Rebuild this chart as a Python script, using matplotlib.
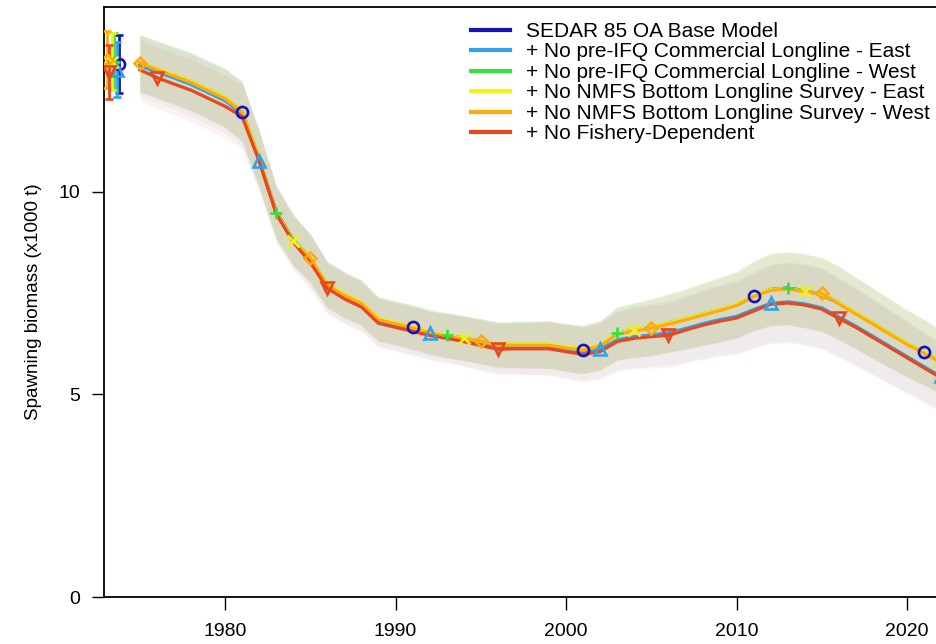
import matplotlib
matplotlib.use("Agg")
import matplotlib.pyplot as plt
import numpy as np

plt.rcParams['font.family'] = ['Liberation Sans', 'DejaVu Sans']

years = list(range(1975, 2023))

labels = [
    "SEDAR 85 OA Base Model",
    "+ No pre-IFQ Commercial Longline - East",
    "+ No pre-IFQ Commercial Longline - West",
    "+ No NMFS Bottom Longline Survey - East",
    "+ No NMFS Bottom Longline Survey - West",
    "+ No Fishery-Dependent",
]
colors = ["#1414b4", "#2ea3ea", "#3ae03a", "#f2f21a", "#ffaa10", "#e8461e"]
markers = ["o", "^", "+", "x", "D", "v"]

# spawning biomass (x1000 t), 1975-2022
base = [13.15, 13.0, 12.85, 12.7, 12.5, 12.3, 11.97, 10.8, 9.5, 8.8,
        8.35, 7.7, 7.45, 7.25, 6.85, 6.75, 6.65, 6.52, 6.45, 6.38,
        6.3, 6.22, 6.22, 6.22, 6.22, 6.15, 6.1, 6.2, 6.5, 6.58,
        6.65, 6.75, 6.85, 6.97, 7.08, 7.2, 7.42, 7.58, 7.62, 7.55,
        7.45, 7.25, 7.0, 6.75, 6.5, 6.25, 6.03, 5.8]
no_ll_east = [13.1, 12.95, 12.8, 12.64, 12.44, 12.24, 11.92, 10.76, 9.47, 8.77,
              8.29, 7.64, 7.39, 7.19, 6.79, 6.69, 6.6, 6.5, 6.42, 6.34,
              6.24, 6.15, 6.15, 6.15, 6.15, 6.08, 6.01, 6.11, 6.34, 6.42,
              6.46, 6.52, 6.62, 6.74, 6.84, 6.92, 7.09, 7.24, 7.28, 7.23,
              7.13, 6.91, 6.68, 6.43, 6.18, 5.93, 5.68, 5.44]
no_ll_west = [13.17, 13.02, 12.87, 12.72, 12.52, 12.32, 11.99, 10.82, 9.46, 8.82,
              8.36, 7.71, 7.46, 7.26, 6.86, 6.76, 6.66, 6.53, 6.45, 6.39,
              6.31, 6.23, 6.23, 6.23, 6.23, 6.16, 6.11, 6.21, 6.5, 6.59,
              6.66, 6.76, 6.86, 6.98, 7.09, 7.21, 7.43, 7.59, 7.61, 7.56,
              7.46, 7.26, 7.01, 6.76, 6.51, 6.26, 6.04, 5.81]
no_bll_east = [13.18, 13.03, 12.88, 12.72, 12.52, 12.32, 11.99, 10.81, 9.49, 8.79,
               8.36, 7.72, 7.47, 7.27, 6.87, 6.77, 6.67, 6.54, 6.46, 6.38,
               6.31, 6.24, 6.24, 6.24, 6.24, 6.17, 6.12, 6.22, 6.51, 6.58,
               6.66, 6.76, 6.86, 6.98, 7.09, 7.22, 7.44, 7.58, 7.61, 7.54,
               7.46, 7.26, 7.01, 6.76, 6.51, 6.26, 6.04, 5.81]
no_bll_west = [13.18, 13.0, 12.85, 12.69, 12.49, 12.29, 11.96, 10.78, 9.47, 8.76,
               8.35, 7.69, 7.44, 7.24, 6.84, 6.74, 6.64, 6.51, 6.43, 6.36,
               6.31, 6.21, 6.21, 6.21, 6.21, 6.14, 6.09, 6.19, 6.48, 6.56,
               6.63, 6.73, 6.83, 6.95, 7.06, 7.19, 7.41, 7.56, 7.6, 7.53,
               7.49, 7.23, 6.98, 6.73, 6.48, 6.23, 6.01, 5.78]
no_fd = [13.0, 12.81, 12.65, 12.5, 12.3, 12.1, 11.85, 10.75, 9.45, 8.75,
         8.25, 7.61, 7.35, 7.15, 6.75, 6.65, 6.55, 6.45, 6.38, 6.3,
         6.2, 6.11, 6.12, 6.12, 6.12, 6.05, 5.98, 6.05, 6.3, 6.38,
         6.42, 6.45, 6.58, 6.7, 6.8, 6.88, 7.05, 7.22, 7.25, 7.2,
         7.1, 6.87, 6.65, 6.4, 6.15, 5.9, 5.65, 5.4]
series = [base, no_ll_east, no_ll_west, no_bll_east, no_bll_west, no_fd]

# 95% interval half-width as a fraction of the estimate
half_ci = [0.053, 0.054, 0.055, 0.056, 0.057, 0.059, 0.061, 0.064, 0.067, 0.07,
           0.072, 0.074, 0.076, 0.077, 0.079, 0.08, 0.082, 0.083, 0.085, 0.086,
           0.088, 0.089, 0.091, 0.092, 0.094, 0.095, 0.097, 0.098, 0.1, 0.102,
           0.104, 0.106, 0.108, 0.11, 0.112, 0.113, 0.115, 0.117, 0.118, 0.12,
           0.122, 0.124, 0.126, 0.128, 0.13, 0.132, 0.134, 0.136]
half_ci_fd = [0.058, 0.059, 0.06, 0.062, 0.063, 0.065, 0.067, 0.07, 0.074, 0.077,
              0.08, 0.082, 0.084, 0.086, 0.088, 0.09, 0.092, 0.094, 0.096, 0.098,
              0.1, 0.102, 0.104, 0.106, 0.108, 0.11, 0.112, 0.114, 0.116, 0.118,
              0.12, 0.122, 0.124, 0.126, 0.128, 0.13, 0.132, 0.134, 0.135, 0.137,
              0.139, 0.141, 0.143, 0.145, 0.147, 0.149, 0.151, 0.153]
half_by_model = [half_ci, half_ci_fd, half_ci, half_ci, half_ci, half_ci_fd]

# years at which each model carries a marker
marker_years = [
    [1981, 1991, 2001, 2011, 2021],
    [1982, 1992, 2002, 2012, 2022],
    [1983, 1993, 2003, 2013],
    [1984, 1994, 2004, 2014],
    [1975, 1985, 1995, 2005, 2015],
    [1976, 1986, 1996, 2006, 2016],
]

# virgin (unfished) biomass with intervals, drawn left of the time series
virgin_x = [1973.8, 1973.65, 1973.5, 1973.35, 1973.1, 1973.22]
virgin_val = [13.15, 13.0, 13.2, 13.2, 13.25, 12.95]
virgin_err = [0.72, 0.68, 0.7, 0.7, 0.7, 0.66]

fig = plt.figure(figsize=(9.37, 6.44), dpi=100)
ax = fig.add_axes([104 / 937, 47 / 644, 833 / 937, 590 / 644])

yrs = np.array(years)
for vals, half, col in zip(series, half_by_model, colors):
    v = np.array(vals)
    h = np.array(half) * v
    ax.fill_between(yrs, v - h, v + h, color=col, alpha=0.068, lw=0)

# lines first, then the points on top of all lines
for vals, col in zip(series, colors):
    ax.plot(yrs, vals, color=col, lw=2.3, zorder=2)

for i, (vals, col, mk) in enumerate(zip(series, colors, markers)):
    ms = 6 if mk == "D" else 8
    my = [vals[years.index(y)] for y in marker_years[i]]
    ax.plot(marker_years[i], my, ls="none", marker=mk, ms=ms, mfc="none",
            mec=col, mew=1.9, zorder=3)
    ax.errorbar(virgin_x[i], virgin_val[i], yerr=virgin_err[i], color=col,
                marker=mk, ms=ms, mfc="none", mec=col, mew=1.9,
                capsize=3, elinewidth=2, capthick=2, zorder=3)

ax.set_xlim(1972.9, 2021.76)
ax.set_ylim(0, 14.55)
ax.set_xticks([1980, 1990, 2000, 2010, 2020])
ax.set_yticks([0, 5, 10])
ax.tick_params(axis="x", length=9, width=1, pad=10, labelsize=14)
ax.tick_params(axis="y", length=9, width=1, pad=8, labelsize=14)
ax.spines["right"].set_visible(False)
for s in ["left", "bottom", "top"]:
    ax.spines[s].set_linewidth(1.3)
ax.set_ylabel("Spawning biomass (x1000 t)", fontsize=13.5, labelpad=12)

handles = [plt.Line2D([], [], color=c, lw=3) for c in colors]
fig.legend(handles, labels, loc="upper left",
           bbox_to_anchor=(471 / 937, 1 - 22 / 644), frameon=False,
           fontsize=15, handlelength=1.85, handletextpad=0.8,
           labelspacing=0.07, borderpad=0, borderaxespad=0)

fig.savefig("out.png", dpi=100)
